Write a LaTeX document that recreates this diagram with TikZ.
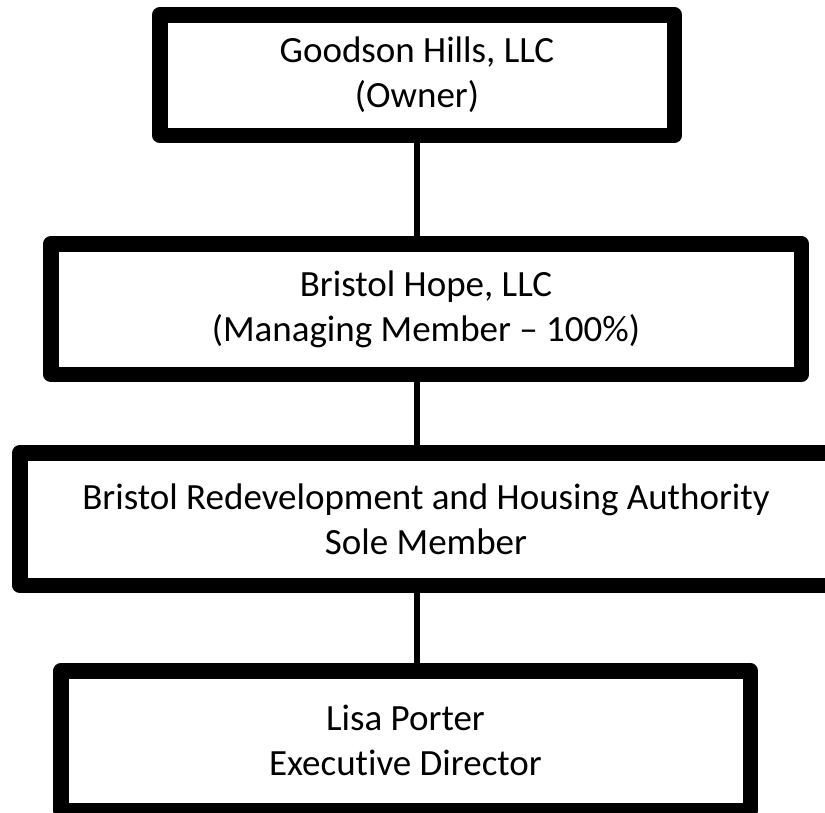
\documentclass[tikz,border=0pt]{standalone}
\usepackage{fontspec}
\setmainfont[Ligatures=NoCommon]{Carlito}
\begin{document}
\begin{tikzpicture}[x=1pt,y=-1pt,
  orgbox/.style={draw=black, fill=white, line width=15.5pt, line join=round,
    rectangle, inner sep=0pt, outer sep=0pt, align=center,
    font=\fontsize{37}{45}\selectfont},
  link/.style={draw=black, line width=6pt}]
\useasboundingbox (0,0) rectangle (825,812);
\clip (0,0) rectangle (825,812);
\fill[white] (0,0) rectangle (825,812);
\node[orgbox, minimum width=514.5pt, minimum height=120.5pt] (owner) at (417,75)
  {Goodson Hills, LLC\\(Owner)};
\node[orgbox, minimum width=750.5pt, minimum height=130.5pt] (hope) at (426,309)
  {Bristol Hope, LLC\\(Managing Member – 100\%)};
\node[orgbox, minimum width=812.5pt, minimum height=132.5pt] (brha) at (426,519)
  {Bristol Redevelopment and Housing Authority\\Sole Member};
\node[orgbox, minimum width=689.5pt, minimum height=139.5pt] (porter) at (405.5,740.5)
  {Lisa Porter\\Executive Director};
\draw[link] (owner.south) -- (owner.south |- hope.north);
\draw[link] (owner.south |- hope.south) -- (owner.south |- brha.north);
\draw[link] (owner.south |- brha.south) -- (owner.south |- porter.north);
\end{tikzpicture}
\end{document}
